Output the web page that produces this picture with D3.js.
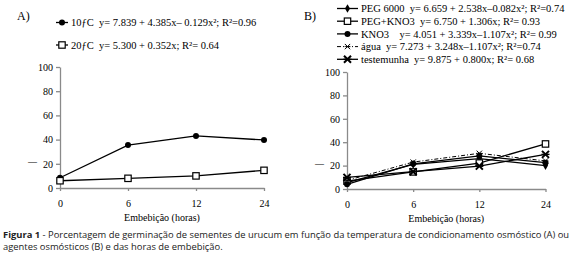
<!DOCTYPE html>
<html>
<head>
<meta charset="utf-8">
<script src="https://cdn.jsdelivr.net/npm/d3@7"></script>
<style>
  body { margin: 0; background: #fff; }
  svg text { font-family: "Liberation Serif", "Times New Roman", serif; }
  .axis path, .axis line { stroke: #8a8a8a; stroke-width: 1.3; }
  .axis text { font-size: 10px; fill: #000; }
  svg text.caption { font-family: "Open Sans", "Noto Sans", sans-serif; font-size: 9.4px; fill: #222; }
</style>
</head>
<body>
<svg width="580" height="274"></svg>
<script>
var svg = d3.select("svg");

var hours = ["0", "6", "12", "24"];
var yTicks = [0, 20, 40, 60, 80, 100];

// painel A: temperatura de condicionamento
var temp10 = [8.5, 35.5, 43, 39.7];
var temp20 = [6, 8, 10, 14.6];
var legendA = [
  "10ƒC  y= 7.839 + 4.385x\u2013 0.129x\u00b2; R\u00b2=0.96",
  "20ƒC  y= 5.300 + 0.352x; R\u00b2= 0.64"
];

// painel B: agentes osmóticos
var peg6000 = [5.5, 21, 26, 20];
var pegKno3 = [6.7, 14.6, 22.2, 38.5];
var kno3 = [4, 21.5, 28.3, 22.5];
var agua = [7.3, 23, 30.5, 24];
var testemunha = [9.9, 14.8, 19.6, 29.6];
var legendB = [
  "PEG 6000  y= 6.659 + 2.538x\u20130.082x\u00b2; R\u00b2=0.74",
  "PEG+KNO3  y= 6.750 + 1.306x; R\u00b2= 0.93",
  "KNO3    y= 4.051 + 3.339x\u20131.107x\u00b2; R\u00b2= 0.99",
  "água  y= 7.273 + 3.248x\u20131.107x\u00b2; R\u00b2=0.74",
  "testemunha  y= 9.875 + 0.800x; R\u00b2= 0.68"
];

function marker(g, type, cx, cy) {
  if (type == "circle") {
    g.append("circle").attr("cx", cx).attr("cy", cy).attr("r", 3).attr("fill", "#000");
  } else if (type == "square") {
    g.append("rect").attr("x", cx - 3.2).attr("y", cy - 3.2).attr("width", 6.4).attr("height", 6.4)
      .attr("fill", "#fff").attr("stroke", "#000").attr("stroke-width", 1.2);
  } else if (type == "diamond") {
    g.append("path").attr("d", d3.symbol(d3.symbolDiamond, 22)()).attr("transform", "translate(" + cx + "," + cy + ")")
      .attr("fill", "#000");
  } else if (type == "star") {
    g.append("path").attr("d", d3.symbol(d3.symbolTimes, 20)()).attr("transform", "translate(" + cx + "," + cy + ")")
      .attr("stroke", "#000").attr("stroke-width", 1).attr("fill", "none");
    g.append("line").attr("x1", cx - 3).attr("x2", cx + 3).attr("y1", cy).attr("y2", cy).attr("stroke", "#000").attr("stroke-width", 0.8);
  } else if (type == "bigstar") {
    g.append("path").attr("d", d3.symbol(d3.symbolTimes, 34)()).attr("transform", "translate(" + cx + "," + cy + ")")
      .attr("stroke", "#000").attr("stroke-width", 2).attr("fill", "none");
    g.append("line").attr("x1", cx - 4).attr("x2", cx + 4).attr("y1", cy).attr("y2", cy).attr("stroke", "#000").attr("stroke-width", 1.4);
  }
}

function panel(opts) {
  var x = d3.scalePoint().domain(hours).range(opts.xr);
  var y = d3.scaleLinear().domain([0, 100]).range(opts.yr);
  var g = svg.append("g");

  g.append("g").attr("class", "axis")
    .attr("transform", "translate(" + opts.xr[0] + ",0)")
    .call(d3.axisLeft(y).tickValues(yTicks).tickSize(4).tickSizeOuter(0).tickPadding(3));

  g.append("g").attr("class", "axis")
    .attr("transform", "translate(0," + opts.yr[0] + ")")
    .call(d3.axisBottom(x).tickSize(3).tickSizeOuter(0).tickPadding(9));

  g.append("text").attr("x", opts.xr[0] - 32).attr("y", y(22) + 3).attr("font-size", 9).text("\u2014");

  g.append("text")
    .attr("x", (opts.xr[0] + opts.xr[1]) / 2).attr("y", opts.yr[0] + 33)
    .attr("text-anchor", "middle").attr("font-size", 10)
    .text("Embebição (horas)");

  g.append("text").attr("x", opts.labelX).attr("y", opts.labelY).attr("font-size", 12).text(opts.label);

  opts.series.forEach(function (s, i) {
    var line = d3.line().x(function (d, j) { return x(hours[j]); }).y(function (d) { return y(d); });
    g.append("path").datum(s.values).attr("d", line)
      .attr("fill", "none").attr("stroke", "#000").attr("stroke-width", s.width || 1.3)
      .attr("stroke-dasharray", s.dash || null);
    s.values.forEach(function (d, j) { marker(g, s.type, x(hours[j]), y(d)); });

    var ly = opts.legY + i * opts.legStep;
    g.append("line").attr("x1", opts.legX).attr("x2", opts.legX + opts.legW).attr("y1", ly).attr("y2", ly)
      .attr("stroke", "#000").attr("stroke-width", s.width || 1.3).attr("stroke-dasharray", s.dash || null);
    marker(g, s.type, opts.legX + opts.legW / 2, ly);
    g.append("text").attr("x", opts.legX + opts.legW + 3).attr("y", ly + 3.8)
      .attr("font-size", 10.5).style("white-space", "pre").text(s.legend);
  });
}

panel({
  xr: [60, 264], yr: [188, 67],
  label: "A)", labelX: 17, labelY: 20,
  legX: 56, legW: 12, legY: 22.5, legStep: 22.5,
  series: [
    { values: temp10, type: "circle", legend: legendA[0] },
    { values: temp20, type: "square", legend: legendA[1] }
  ]
});

panel({
  xr: [347, 545.5], yr: [189, 72],
  label: "B)", labelX: 304, labelY: 20,
  legX: 337, legW: 21, legY: 8.5, legStep: 12.7,
  series: [
    { values: peg6000, type: "diamond", legend: legendB[0] },
    { values: pegKno3, type: "square", legend: legendB[1] },
    { values: kno3, type: "circle", legend: legendB[2] },
    { values: agua, type: "star", legend: legendB[3], dash: "4,2,1,2", width: 1 },
    { values: testemunha, type: "bigstar", legend: legendB[4] }
  ]
});

var cap = svg.append("text").attr("class", "caption").attr("x", 3).attr("y", 238);
cap.append("tspan").attr("font-weight", "bold").text("Figura 1");
cap.append("tspan").text(" - Porcentagem de germinação de sementes de urucum em função da temperatura de condicionamento osmóstico (A) ou");
svg.append("text").attr("class", "caption").attr("x", 3).attr("y", 249.5)
  .text("agentes osmósticos (B) e das horas de embebição.");
</script>
</body>
</html>
